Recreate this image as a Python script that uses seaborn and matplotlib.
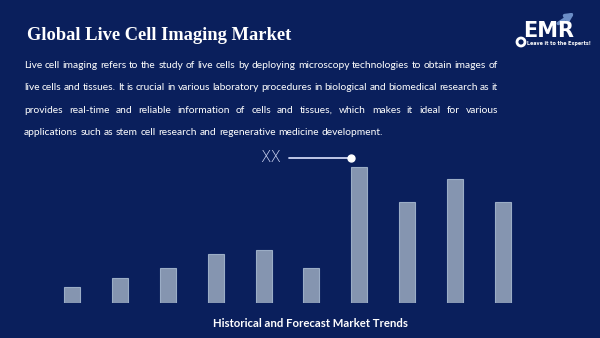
import numpy as np
import pandas as pd
import matplotlib
matplotlib.use("Agg")
import matplotlib.pyplot as plt
import seaborn as sns
from matplotlib.patches import Ellipse, FancyArrowPatch

# ---- data -------------------------------------------------------------
years = ["2018", "2019", "2020", "2021", "2022", "2023", "2024", "2025", "2026", "2027"]
market_size = [16.5, 25, 35, 49, 53, 35, 136.5, 101.5, 124, 101.5]
peak_label = "XX"

title = "Global Live Cell Imaging Market"
description_lines = [
    "Live cell imaging refers to the study of live cells by deploying microscopy technologies to obtain images of",
    "live cells and tissues. It is crucial in various laboratory procedures in biological and biomedical research as it",
    "provides real-time and reliable information of cells and tissues, which makes it ideal for various",
    "applications such as stem cell research and regenerative medicine development.",
]
caption = "Historical and Forecast Market Trends"
logo_text = "EMR"
logo_tagline = "Leave it to the Experts!"

# ---- style ------------------------------------------------------------
BG = "#0a1f5c"
BAR = "#8595b0"
BAR_EDGE = "#9badc6"
ACCENT = "#cdd4f2"
W, H = 600, 338

sns.set_theme(style="white")
plt.rcParams["font.family"] = ["DejaVu Sans"]

fig = plt.figure(figsize=(W / 100, H / 100), dpi=100, facecolor=BG)


def fx(x):
    return x / W


def fy(y):
    return 1 - y / H


# ---- bars -------------------------------------------------------------
ax = fig.add_axes([fx(48.06), fy(303.3), 478.9 / W, 150 / H])
ax.set_facecolor(BG)
df = pd.DataFrame({"year": years, "size": market_size})
sns.barplot(data=df, x="year", y="size", ax=ax, width=1 / 3, color=BAR,
            edgecolor=BAR_EDGE, linewidth=0.8, saturation=1)
ax.set_xlim(-0.5, len(years) - 0.5)
ax.set_ylim(0, 150)
ax.axis("off")

# callout on the peak bar
peak = int(np.argmax(market_size))
x_dot = peak - 1 / 6
y_dot = market_size[peak] + 9
x_start = x_dot - 1.3
ax.plot([x_start, x_dot], [y_dot, y_dot], color=ACCENT, lw=1.3, clip_on=False)
ax.plot([x_dot], [y_dot], "o", color="white", ms=5, clip_on=False)
ax.annotate(peak_label, (x_start, y_dot), xytext=(-6, 0), textcoords="offset points",
            ha="right", va="center", color=ACCENT, fontsize=11, fontweight="light",
            annotation_clip=False)

# ---- text -------------------------------------------------------------
fig.canvas.draw()
renderer = fig.canvas.get_renderer()


def text_width(s, **kw):
    t = fig.text(0, 0, s, **kw)
    w = t.get_window_extent(renderer).width
    t.remove()
    return w


def fitted_size(s, width, base=10, **kw):
    return base * width / text_width(s, fontsize=base, **kw)


# title
title_kw = dict(family="Liberation Serif", fontweight="bold", color="white")
fig.text(fx(27), fy(39.5), title, fontsize=fitted_size(title, 265, **title_kw),
         va="baseline", ha="left", **title_kw)

# description paragraph, justified except for the last line
body_kw = dict(family="Lato", color="white")
body_size = fitted_size(description_lines[0], 474, **body_kw)
space = (text_width("a a", fontsize=body_size, **body_kw)
         - text_width("aa", fontsize=body_size, **body_kw))
baselines = [68.3, 90.5, 112.7, 134.9]
for i, (line, yb) in enumerate(zip(description_lines, baselines)):
    words = line.split(" ")
    widths = [text_width(w, fontsize=body_size, **body_kw) for w in words]
    last = i == len(description_lines) - 1
    gap = space if last else (474 - sum(widths)) / (len(words) - 1)
    x = 24
    for w, wd in zip(words, widths):
        fig.text(fx(x), fy(yb), w, fontsize=body_size, va="baseline", ha="left", **body_kw)
        x += wd + gap

# caption
cap_kw = dict(family="Lato", fontweight="bold", color="white")
fig.text(fx(310), fy(327), caption, fontsize=fitted_size(caption, 195, **cap_kw),
         va="baseline", ha="center", **cap_kw)

# ---- logo -------------------------------------------------------------
fig.add_artist(FancyArrowPatch((fx(556), fy(25)), (fx(577), fy(11)),
                               transform=fig.transFigure, arrowstyle="-|>",
                               mutation_scale=11, color="#6b8dc6", lw=2.6))
fig.text(fx(549), fy(37), logo_text, fontsize=15, fontweight="bold", color="white",
         ha="center", va="baseline")
fig.add_artist(Ellipse((fx(521), fy(42)), 8 / W, 8 / H, transform=fig.transFigure,
                       facecolor=BG, edgecolor="white", lw=2))
fig.text(fx(527), fy(44.5), logo_tagline, fontsize=3.4, fontweight="bold",
         color="white", ha="left", va="baseline")

fig.savefig("out.png", dpi=100, facecolor=BG)
